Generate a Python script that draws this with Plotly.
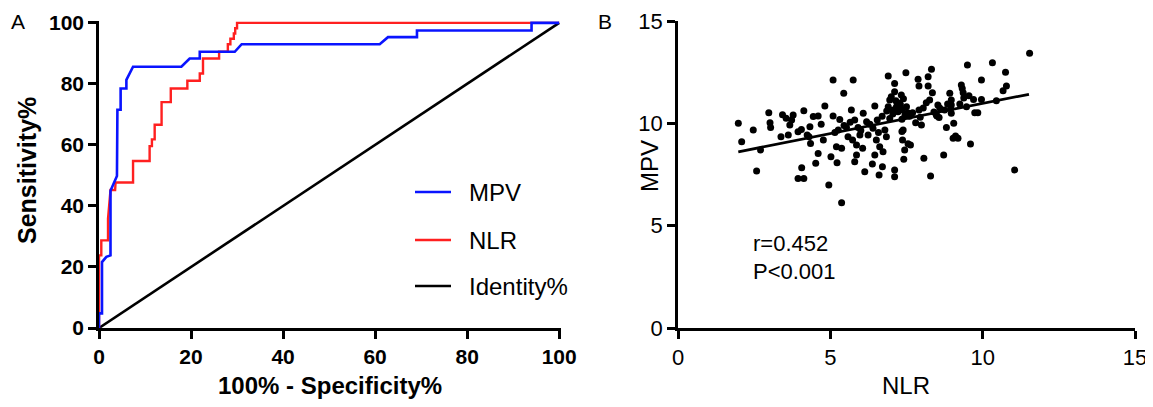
import plotly.graph_objects as go

# page has an 8px body margin, so the figure is sized to fit the 1153x407 window
OFF = 8
W, H = 1153 - OFF, 407 - OFF
FONT = "Liberation Sans, Arial, sans-serif"


def px(sx):
    return (sx - OFF) / W


def py(sy):
    return (H - (sy - OFF)) / H


# ---------------- Panel A: ROC curves ----------------
mpv_fpr = [0, 0, 0.65, 0.65, 1.6, 2.5, 2.5, 3.9, 4.0, 4.7, 4.7, 5.95, 5.95, 7.4,
           17.9, 19.7, 21.9, 21.9, 29.5, 31.0, 61.0, 62.8, 69.1, 69.1, 94.0, 94.0, 100]
mpv_tpr = [0, 4.8, 4.8, 21.6, 23.3, 23.8, 45.0, 49.8, 71.5, 71.5, 78.5, 78.5, 81.3, 85.6,
           85.6, 88.3, 88.3, 90.5, 90.5, 93.0, 93.0, 95.3, 95.3, 97.5, 97.5, 100, 100]

nlr_fpr = [0, 0, 0.5, 0.5, 1.96, 1.96, 2.5, 3.5, 3.6, 7.4, 7.4, 11.0, 11.0, 11.5, 11.5,
           12.1, 12.1, 13.6, 13.6, 15.6, 15.6, 19.2, 19.2, 21.9, 21.9, 22.6, 22.6, 26.1,
           26.1, 28.0, 28.0, 28.55, 28.55, 29.3, 29.3, 29.6, 29.6, 30.0, 30.0, 100]
nlr_tpr = [0, 23.8, 23.8, 28.7, 28.7, 35.8, 45.2, 45.2, 47.7, 47.7, 54.7, 54.7, 59.6, 59.6,
           61.8, 61.8, 66.6, 66.6, 74.0, 74.0, 78.5, 78.5, 81.0, 81.0, 83.4, 83.4, 88.3,
           88.3, 90.5, 90.5, 93.0, 93.0, 94.8, 94.8, 96.5, 96.5, 98.2, 98.2, 100, 100]

identity_x = [0, 100]
identity_y = [0, 100]

roc_ticks = [0, 20, 40, 60, 80, 100]

# ---------------- Panel B: scatter NLR vs MPV ----------------
nlr = [1.98, 2.09, 2.47, 2.58, 2.71, 2.98, 3.02, 3.04, 3.38, 3.43, 3.62, 3.67, 3.73, 3.78,
       3.94, 4.06, 3.94, 4.13, 4.13, 4.24, 4.33, 4.35, 4.44, 4.52, 4.60, 4.60, 4.77, 4.82,
       4.95, 5.02, 5.09, 5.09, 5.20, 5.22, 5.26, 5.31, 5.37, 5.37, 5.44, 5.53, 5.58, 5.69,
       5.73, 5.75, 5.80, 5.80, 5.86, 5.86, 5.91, 5.97, 6.06, 6.08, 6.13, 6.19, 6.24, 6.38,
       6.40, 6.46, 6.46, 6.51, 6.54, 6.60, 6.62, 6.71, 6.73, 6.79, 6.90, 6.90, 6.95, 6.95,
       7.06, 7.11, 7.11, 7.11, 7.11, 7.17, 7.22, 7.28, 7.33, 7.37, 7.39, 7.37, 7.44, 7.41,
       7.48, 7.50, 7.63, 7.70, 7.80, 7.88, 7.91, 7.91, 8.07, 8.15, 8.21, 8.21, 8.29, 8.32,
       8.35, 8.26, 8.50, 8.53, 8.72, 8.81,
       8.48, 8.57, 8.92, 8.97, 8.97, 8.95, 8.97, 9.05, 9.11, 9.19, 9.03, 9.30, 9.33, 9.36,
       9.38, 9.47, 9.50, 9.60, 9.70, 9.74, 9.84, 9.96, 9.96, 10.32, 10.45, 10.67, 10.78,
       10.75, 11.05, 11.54,
       7.00, 7.20, 7.30, 7.40, 7.25, 7.45, 7.55, 8.59, 8.75,
       4.30, 6.58, 6.84, 7.35, 7.55, 7.99,
       3.55, 4.05, 4.70, 5.15, 5.45, 5.65, 6.00, 6.30, 6.70, 7.05, 7.15, 7.35, 7.60, 8.05,
       8.40, 8.85, 9.25, 9.55, 6.85, 7.95]
mpv = [10.00, 9.10, 9.67, 7.67, 8.70, 10.52, 10.03, 9.80, 9.35, 10.42, 9.43, 9.92, 10.16, 10.41,
       9.59, 7.83, 7.31, 7.31, 10.62, 9.43, 9.83, 9.02, 10.33, 8.05, 10.36, 8.53, 9.18, 10.85,
       6.99, 8.37, 12.12, 10.36, 8.86, 8.08, 9.67, 10.19, 6.12, 8.78, 11.47, 9.80, 9.35, 10.65,
       9.18, 12.12, 10.16, 8.12, 8.45, 8.94, 9.80, 9.43, 8.78, 10.49, 7.64, 10.08, 9.43, 8.01,
       9.76, 10.85, 8.45, 9.18, 10.16, 7.47, 8.86, 7.88, 8.61, 9.67, 12.31, 10.81, 11.14, 10.24,
       10.65, 11.95, 11.54, 7.72, 7.39, 10.81, 10.57, 10.98, 11.38, 10.65, 9.67, 9.18, 8.70, 8.24,
       12.47, 10.81, 8.94, 10.52, 10.03, 12.15, 10.65, 11.82, 8.29, 11.01, 12.28, 11.82, 7.43, 12.64,
       11.50, 11.14, 10.36, 10.89, 8.45, 9.80,
       10.41, 10.29, 11.47, 11.14, 10.89, 10.73, 10.49, 10.00, 9.38, 9.27, 9.27, 11.87, 11.70, 11.50,
       11.24, 10.81, 12.85, 8.99, 11.17, 10.52, 10.52, 12.12, 11.17, 12.96, 11.10, 11.59, 11.82,
       12.49, 7.72, 13.42,
       11.30, 11.00, 10.90, 11.20, 10.70, 10.40, 10.50, 10.75, 10.65,
       9.35, 9.55, 9.35, 9.60, 9.00, 9.92,
       10.25, 9.70, 9.95, 9.55, 9.90, 10.05, 9.65, 9.95, 10.35, 10.45, 11.10, 10.20, 10.35, 10.75,
       10.55, 10.95, 10.95, 11.35, 10.60, 10.30]

fit_x = [1.98, 11.52]
fit_y = [8.61, 11.42]

scatter_ticks = [0, 5, 10, 15]
r_text = "r=0.452"
p_text = "P<0.001"

fig = go.Figure()

fig.add_trace(go.Scatter(x=identity_x, y=identity_y, mode="lines",
                         line=dict(color="black", width=2.6), xaxis="x", yaxis="y",
                         showlegend=False))
fig.add_trace(go.Scatter(x=nlr_fpr, y=nlr_tpr, mode="lines",
                         line=dict(color="#ff2020", width=2.4), xaxis="x", yaxis="y",
                         showlegend=False))
fig.add_trace(go.Scatter(x=mpv_fpr, y=mpv_tpr, mode="lines",
                         line=dict(color="#0a14ff", width=2.6), xaxis="x", yaxis="y",
                         showlegend=False))

fig.add_trace(go.Scatter(x=nlr, y=mpv, mode="markers",
                         marker=dict(color="black", size=7), xaxis="x2", yaxis="y2",
                         showlegend=False))
fig.add_trace(go.Scatter(x=fit_x, y=fit_y, mode="lines",
                         line=dict(color="black", width=2.8), xaxis="x2", yaxis="y2",
                         showlegend=False))

ydom = [py(328), py(21)]
axis_common = dict(showline=True, linecolor="black", linewidth=2.5, ticks="outside",
                   ticklen=8, tickwidth=2.5, tickcolor="black", showgrid=False,
                   zeroline=False, fixedrange=True, automargin=False)

fig.update_layout(
    template="none",
    width=W, height=H,
    margin=dict(l=0, r=0, t=0, b=0, pad=0, autoexpand=False),
    paper_bgcolor="white", plot_bgcolor="white",
    font=dict(family=FONT, color="black"),
    xaxis=dict(domain=[px(99), px(561)], range=[0, 100.4], tickvals=roc_ticks,
               anchor="y", tickfont=dict(size=21, weight="bold", family=FONT), **axis_common),
    yaxis=dict(domain=ydom, range=[0, 100.6], tickvals=roc_ticks, anchor="x",
               tickfont=dict(size=21, weight="bold", family=FONT), **axis_common),
    xaxis2=dict(domain=[px(678), px(1135)], range=[0, 15], tickvals=scatter_ticks,
                anchor="y2", tickfont=dict(size=22, family=FONT), **axis_common),
    yaxis2=dict(domain=ydom, range=[0, 15], tickvals=scatter_ticks, anchor="x2",
                tickfont=dict(size=22, family=FONT), **axis_common),
)

ann = []
ann.append(dict(text="<b>Sensitivity%</b>", x=px(27), y=py(171), textangle=-90,
                font=dict(size=25)))
ann.append(dict(text="<b>100% - Specificity%</b>", x=px(329.5), y=py(385),
                font=dict(size=24)))
ann.append(dict(text="MPV", x=px(649), y=py(166), textangle=-90, font=dict(size=24)))
ann.append(dict(text="NLR", x=px(906), y=py(385), font=dict(size=24)))
for a in ann:
    a.update(xref="paper", yref="paper", showarrow=False, xanchor="center", yanchor="middle")

ann.append(dict(text="A", x=px(18), y=1.0, xref="paper", yref="paper", showarrow=False,
                xanchor="center", yanchor="top", font=dict(size=21)))
ann.append(dict(text="B", x=px(605), y=1.0, xref="paper", yref="paper", showarrow=False,
                xanchor="center", yanchor="top", font=dict(size=21)))

ann.append(dict(text=r_text, x=2.4, y=4.12, xref="x2", yref="y2", showarrow=False,
                xanchor="left", yanchor="middle", font=dict(size=22)))
ann.append(dict(text=p_text, x=2.4, y=2.74, xref="x2", yref="y2", showarrow=False,
                xanchor="left", yanchor="middle", font=dict(size=22)))

legend_items = [("MPV", "#0a14ff", 192), ("NLR", "#ff2020", 240), ("Identity%", "black", 286)]
shapes = []
for name, col, sy in legend_items:
    shapes.append(dict(type="line", xref="paper", yref="paper", x0=px(415), x1=px(451),
                       y0=py(sy), y1=py(sy), line=dict(color=col, width=2.6)))
    ann.append(dict(text=name, x=px(467), y=py(sy), xref="paper", yref="paper", showarrow=False,
                    xanchor="left", yanchor="middle", font=dict(size=24)))

fig.update_layout(annotations=ann, shapes=shapes)

fig.write_html("out.html")
